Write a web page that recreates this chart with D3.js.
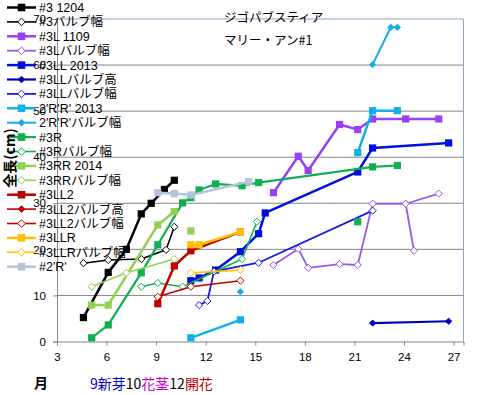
<!DOCTYPE html>
<html>
<head>
<meta charset="utf-8">
<script src="https://d3js.org/d3.v7.min.js"></script>
<style>
  body { margin: 0; background: #fff; }
  svg { display: block; font-family: "Liberation Sans", "Noto Sans CJK JP", sans-serif; }
</style>
</head>
<body>
<svg id="chart" width="484" height="395"></svg>
<script>
// [month, length cm] ; null = break in the line
const s3_1204      = [[4.6,5.2],[6.1,15],[7.2,20],[8.1,27.7],[8.7,30],[9.5,33],[10.1,35]];
const s3_bulbW     = [[4.6,17],[6.1,17.7],[8.1,17.9],[9.6,19.9],[10.1,24.9]];
const s3L_1109     = [[16.1,32.3],[17.6,40.2],[18.2,37.1],[20.1,47.1],[21.2,46],[22.1,48.3],[24.1,48.3],[26.1,48.3]];
const s3L_bulbW    = [[16.1,16.6],[17.6,20.1],[18.2,16],[20.1,16.8],[21.2,16.6],[22.1,29.9],[24.1,29.9],[24.6,19.7],null,[24.1,29.9],[26.1,32.1]];
const s3LL_2013    = [[11.1,13.2],[11.6,13.8],[12.6,15.5],[14.1,19.5],[15.2,23.4],[15.6,27.9],[21.2,36.8],[22.1,42],[26.7,43.1]];
const s3LL_bulbH   = [[22.1,4],[26.7,4.4]];
const s3LL_bulbW   = [[11.6,7.9],[12.1,8.8],[12.5,15.2],[15.2,17.1],[22.1,28.4]];
const s2RR_2013    = [[11.1,0.8],[14.1,4.7],null,[21.2,41],[22.1,50.1],[23.6,50.1]];
const s2RR_bulbW   = [[14.1,10.8],null,[22.1,60.1],[23.2,68.2],[23.6,68.2]];
const s3R          = [[5.1,0.8],[6.1,3.6],[8.1,14.9],[9.1,21],[10.6,30.1],[11.1,31.2],[11.6,32.9],[12.6,34.2],[14.2,33.8],[15.2,34.5],[22.1,37.9],[23.6,38.2],null,[21.2,26]];
const s3R_bulbW    = [[8.1,11.9],[9.1,12.7],[10.6,11.9],[14.2,17.9],[15.1,26]];
const s3RR_2014    = [[5.1,7.9],[6.1,7.9],[9.1,25.3],[10.1,28.2],null,[11.1,24]];
const s3RR_bulbW   = [[5.1,11.9],[7.2,14.9],[10.1,17.9]];
const s3LL2        = [[9.1,8.2],[10.1,16.4],[11.1,19.7],[14.1,23.8]];
const s3LL2_bulbH  = [];
const s3LL2_bulbW  = [[9.1,9.7],[11.1,11.9],[14.1,13.2]];
const s3LLR        = [[11.1,21],[11.6,21],[14.1,23.8]];
const s3LLR_bulbW  = [[11.1,14.9],[14.1,15.5]];
const s2R          = [[9.1,32.3],[10.1,32.1],[11.1,31.8],[14.6,34.7]];

const seriesNames = ["#3 1204","#3バルブ幅","#3L 1109","#3Lバルブ幅","#3LL 2013","#3LLバルブ高","#3LLバルブ幅",
  "2'R'R' 2013","2'R'R'バルブ幅","#3R","#3Rバルブ幅","#3RR 2014","#3RRバルブ幅","#3LL2","#3LL2バルブ高",
  "#3LL2バルブ幅","#3LLR","#3LLRバルブ幅","#2'R'"];
const seriesData = [s3_1204,s3_bulbW,s3L_1109,s3L_bulbW,s3LL_2013,s3LL_bulbH,s3LL_bulbW,s2RR_2013,s2RR_bulbW,
  s3R,s3R_bulbW,s3RR_2014,s3RR_bulbW,s3LL2,s3LL2_bulbH,s3LL2_bulbW,s3LLR,s3LLR_bulbW,s2R];

const xTicks = [3,6,9,12,15,18,21,24,27];
const yTicks = [0,10,20,30,40,50,60,70];

// styles: colour, marker type (sq = square, od = open diamond, fd = filled diamond), line width
const styles = [
  ["#000000","sq",2.5],["#000000","od",1.6],["#9940f5","sq",2.5],["#9a5ae6","od",1.8],
  ["#0010e0","sq",2.5],["#0000b8","fd",2.2],["#1a1ae6","od",1.8],["#12b0e8","sq",2.5],
  ["#18ace6","fd",2],["#10b050","sq",2.2],["#10b050","od",1.6],["#92d050","sq",2.5],
  ["#92d050","od",1.6],["#c00000","sq",2.5],["#c00000","fd",1.6],["#c00000","od",1.6],
  ["#ffc000","sq",2.5],["#ffc000","od",1.6],["#b4c4dc","sq",2.5]
];

const svg = d3.select("#chart");
const x = d3.scaleLinear().domain([3, 27.6]).range([57, 463.5]);
const y = d3.scaleLinear().domain([0, 70]).range([341.5, 19]);

// gridlines
svg.append("g").selectAll("line")
  .data(yTicks.filter(d => d > 0 && d < 70))
  .join("line")
    .attr("x1", x(3)).attr("x2", x(27.6))
    .attr("y1", d => y(d)).attr("y2", d => y(d))
    .attr("stroke", "#868686").attr("stroke-width", 1);

// plot border top / right
svg.append("path")
  .attr("d", `M${x(3)},${y(70)}H${x(27.6)}V${y(0)}`)
  .attr("fill", "none").attr("stroke", "#8ca6bf").attr("stroke-width", 1);

// axes
const xAxis = svg.append("g").attr("transform", `translate(0,${y(0)})`)
  .call(d3.axisBottom(x).tickValues(xTicks).tickSize(4).tickPadding(7));
const yAxis = svg.append("g").attr("transform", `translate(${x(3)},0)`)
  .call(d3.axisLeft(y).tickValues(yTicks).tickSize(4).tickPadding(7));
[xAxis, yAxis].forEach(a => {
  a.select(".domain").attr("stroke", "#868686");
  a.selectAll(".tick line").attr("stroke", "#868686");
  a.selectAll("text").attr("font-size", 11.5).attr("fill", "#000")
    .attr("font-family", "Liberation Sans, sans-serif");
});

function marker(sel, type, color, r) {
  if (type === "sq") {
    sel.append("rect").attr("x", -r).attr("y", -r).attr("width", 2 * r).attr("height", 2 * r)
      .attr("fill", color);
  } else {
    const rr = type === "fd" ? r - 0.5 : r;
    sel.append("path").attr("d", `M0,${-rr}L${rr},0L0,${rr}L${-rr},0Z`)
      .attr("fill", type === "fd" ? color : "#fff")
      .attr("stroke", color).attr("stroke-width", 1);
  }
}

const line = d3.line().defined(d => d !== null).x(d => x(d[0])).y(d => y(d[1]));

seriesData.forEach((data, i) => {
  const [color, type, lw] = styles[i];
  const g = svg.append("g");
  g.append("path").datum(data)
    .attr("d", line)
    .attr("fill", "none").attr("stroke", color).attr("stroke-width", lw)
    .attr("stroke-linejoin", "round");
  g.selectAll("g").data(data.filter(d => d !== null)).join("g")
    .attr("transform", d => `translate(${x(d[0])},${y(d[1])})`)
    .each(function () { marker(d3.select(this), type, color, type === "sq" ? 3.6 : 3.6); });
});

// legend
const legend = svg.append("g");
seriesNames.forEach((name, i) => {
  const [color, type, lw] = styles[i];
  const cy = 7.5 + i * 14.4;
  const row = legend.append("g").attr("transform", `translate(0,${cy})`);
  row.append("line").attr("x1", 7).attr("x2", 36).attr("stroke", color).attr("stroke-width", lw);
  marker(row.append("g").attr("transform", "translate(21.5,0)"), type, color, 3.8);
  row.append("text").attr("x", 39).attr("y", 4.5).attr("font-size", 12.5).attr("fill", "#000").text(name);
});

// titles
svg.append("text").attr("x", 224).attr("y", 22).attr("font-size", 12.5)
  .attr("font-family", "Noto Sans CJK JP").text("ジゴパブスティア");
svg.append("text").attr("x", 224).attr("y", 45).attr("font-size", 12.5)
  .attr("font-family", "Noto Sans CJK JP").text("マリー・アン#1");

svg.append("text").attr("transform", "translate(15,158) rotate(-90)")
  .attr("text-anchor", "middle").attr("font-size", 14).attr("font-weight", "bold")
  .attr("font-family", "Noto Sans CJK JP").text("全長(cm)");

svg.append("text").attr("x", 34).attr("y", 388).attr("font-size", 14).attr("font-weight", "bold")
  .attr("font-family", "Noto Sans CJK JP").text("月");

const note = svg.append("text").attr("x", 90).attr("y", 389).attr("font-size", 14)
  .attr("font-family", "Noto Sans CJK JP");
[["9新芽","#0000cc"],["10","#000"],["花茎","#cc00cc"],["12","#000"],["開花","#c00000"]]
  .forEach(([t, c]) => note.append("tspan").attr("fill", c).text(t));
</script>
</body>
</html>
